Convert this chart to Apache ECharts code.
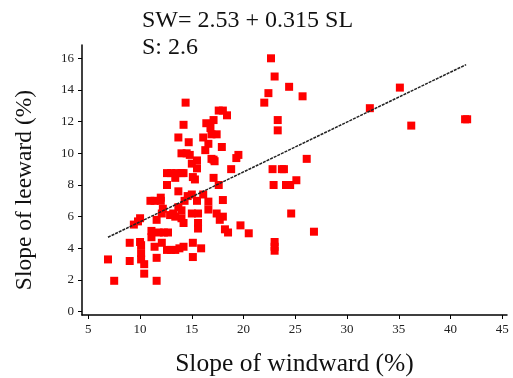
<!DOCTYPE html>
<html>
<head>
<meta charset="utf-8">
<script src="https://cdn.jsdelivr.net/npm/echarts@6/dist/echarts.min.js"></script>
<style>
  html, body { margin: 0; padding: 0; background: #fff; }
  #chart { width: 513px; height: 378px; }
</style>
</head>
<body>
<div id="chart"></div>
<script>
// slope of windward (x) vs slope of leeward (y)
const points = [
    [6.9, 3.3], [7.5, 1.95], [9.0, 4.35], [9.0, 3.2], [9.4, 5.5], [9.8, 5.7], [10.0, 5.9],
    [10.1, 4.2], [10.1, 3.7], [10.1, 3.3], [10.0, 4.4], [10.4, 3.0], [10.4, 2.4], [11.6, 1.95],
    [11.6, 3.4], [11.4, 4.1], [12.1, 4.35], [12.6, 3.9], [13.0, 3.9], [13.4, 3.9], [13.8, 4.0],
    [14.2, 4.1], [11.0, 7.0], [11.4, 7.0], [12.0, 7.0], [12.0, 7.2], [11.6, 5.8], [11.1, 5.1],
    [11.1, 4.7], [11.8, 5.0], [12.3, 5.0], [12.7, 5.0], [12.2, 6.5], [12.1, 6.2], [12.6, 8.0],
    [12.6, 8.75], [13.0, 8.75], [13.5, 8.75], [14.0, 8.75], [14.2, 8.75], [13.4, 8.45], [13.7, 7.6],
    [12.9, 6.1], [13.2, 6.2], [13.4, 6.0], [13.7, 6.6], [14.0, 6.4], [14.0, 5.9], [14.3, 7.0],
    [14.6, 7.3], [14.2, 5.6], [15.0, 7.4], [15.5, 7.0], [15.1, 8.5], [15.3, 8.35], [15.0, 6.2],
    [15.6, 6.2], [15.6, 5.6], [15.6, 5.25], [15.1, 4.35], [15.9, 4.0], [15.1, 3.45], [16.1, 7.4],
    [16.6, 6.95], [16.6, 6.45], [17.4, 6.2], [17.7, 5.8], [18.0, 6.0], [17.1, 8.45], [17.6, 8.0],
    [18.0, 7.05], [18.2, 5.2], [18.5, 5.0], [18.8, 9.0], [19.7, 5.45], [20.5, 4.95], [17.2, 9.5],
    [14.4, 13.2], [14.2, 11.8], [13.7, 11.0], [14.7, 10.7], [14.0, 10.0], [14.5, 10.0], [14.8, 9.9],
    [15.0, 9.35], [15.5, 9.05], [15.5, 9.55], [16.4, 11.9], [16.8, 11.6], [17.1, 12.1], [17.6, 12.7],
    [18.0, 12.7], [18.4, 12.4], [16.1, 11.0], [16.9, 11.2], [17.4, 11.2], [16.6, 10.6], [17.9, 10.4],
    [16.3, 10.2], [16.9, 9.65], [17.1, 9.6], [19.5, 9.9], [19.3, 9.7],
    [22.65, 16.0], [23.0, 14.85], [22.4, 13.8], [22.0, 13.2], [24.4, 14.2], [25.7, 13.6], [23.3, 12.1],
    [23.3, 11.45], [26.1, 9.65], [22.8, 9.0], [23.7, 9.0], [23.9, 9.0], [22.9, 8.0], [24.1, 8.0],
    [24.5, 8.0], [25.1, 8.3], [24.6, 6.2], [26.8, 5.05], [23.0, 4.4], [23.0, 4.1], [23.0, 3.85],
    [32.2, 12.85], [35.1, 14.15], [36.2, 11.75], [41.4, 12.15], [41.6, 12.15]
];
// ends of the fitted line as drawn
const fitLine = [[6.9, 4.7], [41.5, 15.6]];
const xTicks = [5, 10, 15, 20, 25, 30, 35, 40, 45];
const yTicks = [0, 2, 4, 6, 8, 10, 12, 14, 16];
const equation = 'SW= 2.53 + 0.315 SL';
const stdErr = 'S: 2.6';
const yTitle = 'Slope of leeward (%)';

const serif = '"Liberation Serif", "DejaVu Serif", serif';
const chart = echarts.init(document.getElementById('chart'));
chart.setOption({
    backgroundColor: '#fff',
    animation: false,
    grid: { left: 82, right: 6, top: 45, bottom: 63, outerBoundsMode: 'none' },
    xAxis: {
        type: 'value',
        min: 4.39,
        max: 45.45,
        splitLine: { show: false },
        axisLine: { onZero: false, lineStyle: { color: '#000', width: 1.5 } },
        axisTick: { customValues: xTicks, length: 4, lineStyle: { color: '#000' } },
        axisLabel: { customValues: xTicks, margin: 8, color: '#222', fontFamily: serif, fontSize: 13 },
        name: 'Slope of windward (%)',
        nameLocation: 'middle',
        nameGap: 36,
        nameTextStyle: { color: '#111', fontFamily: serif, fontSize: 25.5 }
    },
    yAxis: {
        type: 'value',
        min: -0.21,
        max: 16.84,
        splitLine: { show: false },
        axisLine: { onZero: false, lineStyle: { color: '#000', width: 1.5 } },
        axisTick: { customValues: yTicks, length: 4, lineStyle: { color: '#000' } },
        axisLabel: { customValues: yTicks, margin: 8, color: '#222', fontFamily: serif, fontSize: 13 }
    },
    graphic: [
        { type: 'text', left: 142, top: 9,
          style: { text: equation, fill: '#111', font: '24px ' + serif } },
        { type: 'text', left: 142, top: 36,
          style: { text: stdErr, fill: '#111', font: '24px ' + serif } },
        // y title sits a bit below the plot's middle in the original
        { type: 'text', x: 25, y: 190, rotation: Math.PI / 2,
          style: { text: yTitle, fill: '#111', font: '23.5px ' + serif,
                   align: 'center', verticalAlign: 'middle' } }
    ],
    series: [
        {
            type: 'scatter',
            data: points,
            symbol: 'rect',
            symbolSize: 8,
            itemStyle: { color: '#ff0000', opacity: 1 }
        },
        {
            type: 'line',
            data: fitLine,
            symbol: 'none',
            z: 5,
            lineStyle: { color: '#222', width: 1.5, type: [3, 1] }
        }
    ]
});
</script>
</body>
</html>
